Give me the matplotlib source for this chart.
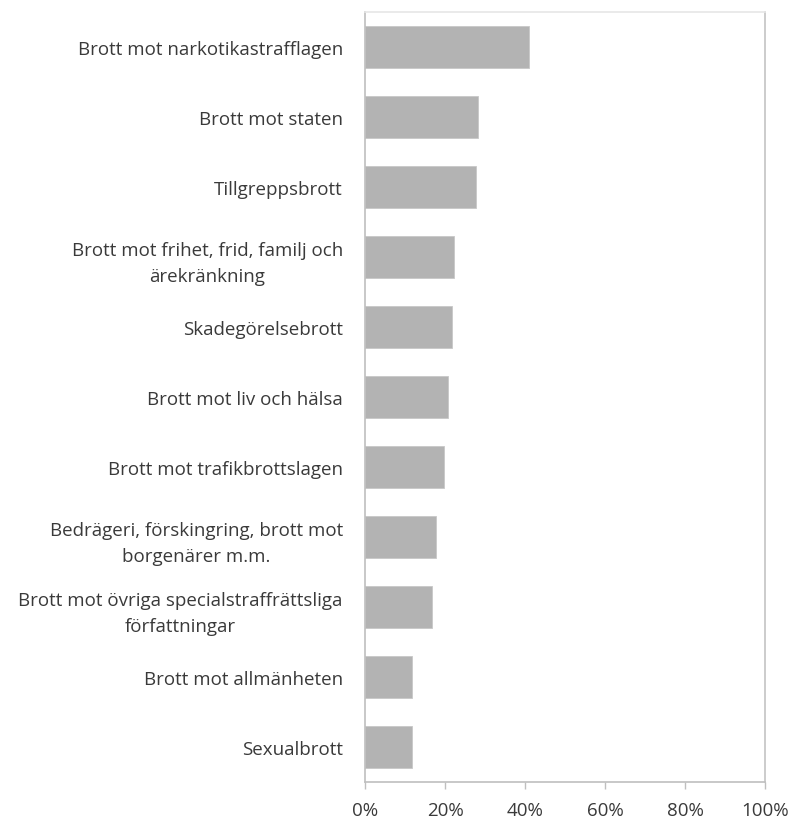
import matplotlib.pyplot as plt
from matplotlib.ticker import PercentFormatter

categories = [
    'Brott mot narkotikastrafflagen',
    'Brott mot staten',
    'Tillgreppsbrott',
    'Brott mot frihet, frid, familj och\närekränkning',
    'Skadegörelsebrott',
    'Brott mot liv och hälsa',
    'Brott mot trafikbrottslagen',
    'Bedrägeri, förskingring, brott mot\nborgenärer m.m.',
    'Brott mot övriga specialstraffrättsliga\nförfattningar',
    'Brott mot allmänheten',
    'Sexualbrott',
]
values = [41.0, 28.3, 27.7, 22.3, 21.8, 20.8, 19.8, 17.8, 16.8, 11.7, 11.7]

plt.rcParams['font.family'] = ['Open Sans', 'DejaVu Sans']

fig = plt.figure(figsize=(7.93, 8.2), dpi=100)
ax = fig.add_axes([0.4603, 0.0451, 0.5044, 0.939])

pos = list(range(len(categories)))[::-1]
ax.barh(pos, values, height=0.61, color='#b3b3b3', edgecolor='#c8c8c8', linewidth=0.6)

ax.set_xlim(0, 100)
ax.set_ylim(-0.5, len(categories) - 0.5)
ax.set_xticks([0, 20, 40, 60, 80, 100])
ax.xaxis.set_major_formatter(PercentFormatter(decimals=0))
ax.set_yticks(pos)
ax.set_yticklabels(categories)
for lbl in ax.get_yticklabels():
    lbl.set_multialignment('center')
    lbl.set_linespacing(1.6)

ax.tick_params(axis='y', length=0, pad=16, labelsize=13.5, labelcolor='#3a3a3a')
ax.tick_params(axis='x', length=5, width=1, color='#bfbfbf', direction='out',
               pad=9, labelsize=13.5, labelcolor='#3a3a3a')

ax.spines['left'].set_color('#bfbfbf')
ax.spines['bottom'].set_color('#bfbfbf')
ax.spines['right'].set_color('#c4c4c4')
ax.spines['top'].set_color('#e6e6e6')
for s in ax.spines.values():
    s.set_linewidth(1.2)

fig.savefig('out.png', dpi=100)
